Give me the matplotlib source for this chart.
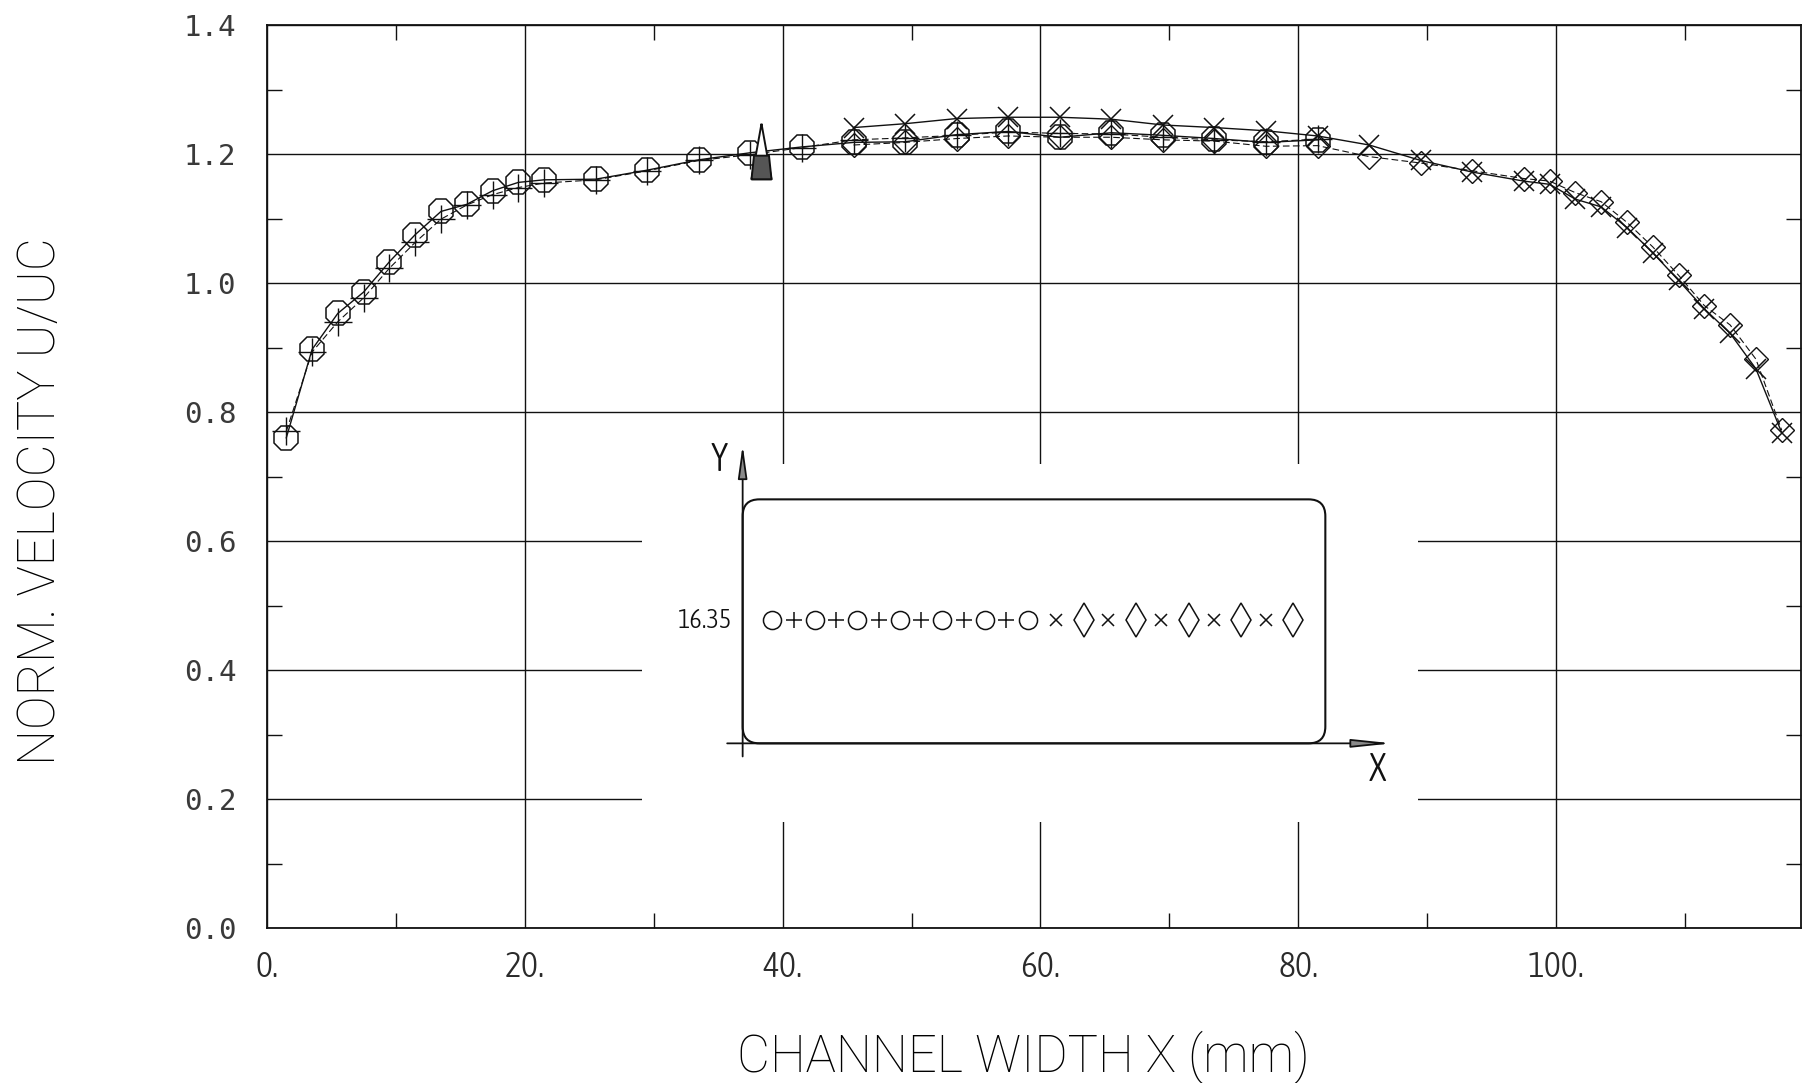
import numpy as np
import matplotlib
matplotlib.use('Agg')
import matplotlib.pyplot as plt
import matplotlib.font_manager as fm
from matplotlib.font_manager import FontProperties
from matplotlib.patches import Rectangle, FancyBboxPatch
from matplotlib.ticker import FixedLocator, FuncFormatter

# --- data: normalized velocity profiles along the channel width (Y = 16.35) ---
x_left = [1.5, 3.5, 5.5, 7.5, 9.5, 11.5, 13.5, 15.5, 17.5, 19.5, 21.5, 25.5, 29.5,
          33.5, 37.5, 41.5, 45.5, 49.5, 53.5, 57.5, 61.5, 65.5, 69.5, 73.5, 77.5, 81.5]
u_circle = [0.760, 0.897, 0.953, 0.986, 1.033, 1.075, 1.111, 1.122, 1.143, 1.156, 1.160,
            1.161, 1.175, 1.191, 1.202, 1.211, 1.218, 1.219, 1.230, 1.235, 1.226, 1.233,
            1.229, 1.224, 1.218, 1.222]
u_plus = [0.770, 0.893, 0.940, 0.977, 1.023, 1.063, 1.099, 1.121, 1.137, 1.148, 1.155,
          1.160, 1.174, 1.190, 1.199, 1.210, 1.222, 1.225, 1.229, 1.234, 1.232, 1.231,
          1.226, 1.222, 1.219, 1.223]

x_right = [45.5, 49.5, 53.5, 57.5, 61.5, 65.5, 69.5, 73.5, 77.5, 81.5, 85.5, 89.5,
           93.5, 97.5, 99.5, 101.5, 103.5, 105.5, 107.5, 109.5, 111.5, 113.5, 115.5, 117.5]
u_cross = [1.241, 1.247, 1.255, 1.257, 1.257, 1.254, 1.245, 1.241, 1.236, 1.228, 1.214,
           1.190, 1.172, 1.158, 1.153, 1.130, 1.118, 1.086, 1.047, 1.004, 0.960, 0.922,
           0.867, 0.768]
u_diamond = [1.214, 1.218, 1.224, 1.228, 1.226, 1.226, 1.222, 1.220, 1.212, 1.213, 1.196,
             1.186, 1.174, 1.162, 1.158, 1.140, 1.126, 1.094, 1.056, 1.012, 0.965, 0.935,
             0.882, 0.772]

x_ref = [38.3]
u_ref = [1.205]

x_ticks = [0, 20, 40, 60, 80, 100]
y_ticks = [0.0, 0.2, 0.4, 0.6, 0.8, 1.0, 1.2, 1.4]
probe_y_label = '16.35'

INK = '#111111'


def _w(v):
    if isinstance(v, str):
        return fm.weight_dict.get(v, 400)
    return int(v)


def find_narrow():
    # look for a condensed, preferably light, face among installed fonts
    for st in ['condensed', 'semi-condensed', 'extra-condensed']:
        for w in [300, 200, 400]:
            for f in fm.fontManager.ttflist:
                if f.stretch == st and _w(f.weight) == w and f.style == 'normal':
                    return f.fname
    return None


NARROW_FILE = find_narrow()


def narrow(size):
    if NARROW_FILE:
        return FontProperties(fname=NARROW_FILE, size=size)
    return FontProperties(family=['Roboto', 'DejaVu Sans'], weight='light', size=size)


def thin(size):
    return FontProperties(family=['Roboto', 'DejaVu Sans'], weight='light', size=size)


fig = plt.figure(figsize=(18.05, 10.83), dpi=100, facecolor='white')
ax = fig.add_axes([0.1479, 0.1431, 0.8499, 0.8338])
ax.set_xlim(0, 119)
ax.set_ylim(0, 1.4)

# grid + ticks
ax.xaxis.set_major_locator(FixedLocator(x_ticks))
ax.yaxis.set_major_locator(FixedLocator(y_ticks))
ax.xaxis.set_minor_locator(FixedLocator([10, 30, 50, 70, 90, 110]))
ax.yaxis.set_minor_locator(FixedLocator([0.1, 0.3, 0.5, 0.7, 0.9, 1.1, 1.3]))
ax.set_axisbelow(True)
ax.grid(True, which='major', color=INK, lw=1.0)
ax.tick_params(which='major', length=0)
ax.tick_params(axis='y', which='major', pad=22)
ax.tick_params(axis='x', which='major', pad=16)
ax.tick_params(which='minor', direction='in', length=11, width=1.0, color=INK,
               top=True, right=True)
ax.xaxis.set_major_formatter(FuncFormatter(lambda v, p: f'{int(v)}.'))
ax.yaxis.set_major_formatter(FuncFormatter(lambda v, p: f'{v:.1f}'))
for lab in ax.get_yticklabels():
    lab.set_fontfamily('DejaVu Sans Mono')
    lab.set_fontsize(21)
    lab.set_color('#3a3a3a')
for lab in ax.get_xticklabels():
    lab.set_fontproperties(narrow(26))
    lab.set_color('#2a2a2a')
for s in ax.spines.values():
    s.set_linewidth(1.3)
    s.set_color(INK)

# blank area for the inset sketch (grid interrupted)
ax.add_patch(Rectangle((29.1, 0.165), 60.2, 0.555, facecolor='white',
                       edgecolor='none', zorder=1))

# --- profiles ---
ax.plot(x_left, u_circle, color=INK, lw=1.0, marker='8', ms=19, mfc='none',
        mec=INK, mew=1.1, zorder=3)
ax.plot(x_left, u_plus, color=INK, lw=0.8, ls=(0, (6, 3)), marker='+', ms=20,
        mec=INK, mew=1.0, zorder=3)
ax.plot(x_right, u_cross, color=INK, lw=1.0, marker='x', ms=15, mec=INK,
        mew=1.1, zorder=3)
ax.plot(x_right, u_diamond, color=INK, lw=0.8, ls=(0, (6, 3)), marker='D', ms=12,
        mfc='none', mec=INK, mew=1.0, zorder=3)
# reference point: arrow-head shaped symbol, dark lower block
ax.plot(x_ref, u_ref, ls='none',
        marker=[(0, 1.0), (-0.36, -1.0), (0.36, -1.0), (0, 1.0)],
        ms=40, mfc='white', mec=INK, mew=1.4, zorder=4)
ax.plot(x_ref, u_ref, ls='none',
        marker=[(-0.36, -1.0), (0.36, -1.0), (0.27, -0.15), (-0.27, -0.15), (-0.36, -1.0)],
        ms=40, mfc='#555555', mec=INK, mew=1.4, zorder=5)

# --- inset: channel cross-section with probe traverse ---
ax.add_patch(FancyBboxPatch((36.9, 0.2863), 45.2, 0.3783,
                            boxstyle='round,pad=0,rounding_size=1.3',
                            mutation_aspect=0.02, facecolor='none',
                            edgecolor=INK, lw=1.5, zorder=3))
ax.annotate('', xy=(36.9, 0.749), xytext=(36.9, 0.266),
            arrowprops=dict(arrowstyle='-|>,head_length=2.0,head_width=0.28',
                            mutation_scale=10, color=INK, fc='#8a8a8a', lw=1.3,
                            shrinkA=0, shrinkB=0), zorder=4)
ax.annotate('', xy=(87.3, 0.2863), xytext=(35.7, 0.2863),
            arrowprops=dict(arrowstyle='-|>,head_length=2.4,head_width=0.25',
                            mutation_scale=10, color=INK, fc='#8a8a8a', lw=1.3,
                            shrinkA=0, shrinkB=0), zorder=4)
ax.text(35.1, 0.726, 'Y', ha='center', va='center', fontproperties=narrow(28),
        color=INK, zorder=4)
ax.text(86.1, 0.245, 'X', ha='center', va='center', fontproperties=narrow(28),
        color=INK, zorder=4)
ax.text(36.1, 0.4775, probe_y_label, ha='right', va='center',
        fontproperties=narrow(19), color=INK, zorder=4)

row_y = 0.4775
o_pos = np.linspace(39.2, 59.0, 7)
p_pos = (o_pos[:-1] + o_pos[1:]) / 2
x_pos = np.linspace(61.2, 77.5, 5)
d_pos = np.linspace(63.4, 79.6, 5)
ax.plot(o_pos, [row_y] * len(o_pos), ls='none', marker='o', ms=13, mfc='none',
        mec=INK, mew=1.1, zorder=4)
ax.plot(p_pos, [row_y] * len(p_pos), ls='none', marker='+', ms=11, mec=INK,
        mew=1.1, zorder=4)
ax.plot(x_pos, [row_y] * len(x_pos), ls='none', marker='x', ms=8, mec=INK,
        mew=1.1, zorder=4)
ax.plot(d_pos, [row_y] * len(d_pos), ls='none', marker='d', ms=17, mfc='none',
        mec=INK, mew=1.1, zorder=4)

# axis titles
fig.text(41 / 1805, 1 - 501 / 1083, 'NORM. VELOCITY U/UC', rotation=90,
         ha='center', va='center', fontproperties=thin(36.5), color='black')
fig.text(1023 / 1805, 1 - 1057 / 1083, 'CHANNEL WIDTH X (mm)',
         ha='center', va='center', fontproperties=thin(36.5), color='black')

fig.savefig('out.png', dpi=100, facecolor='white')
